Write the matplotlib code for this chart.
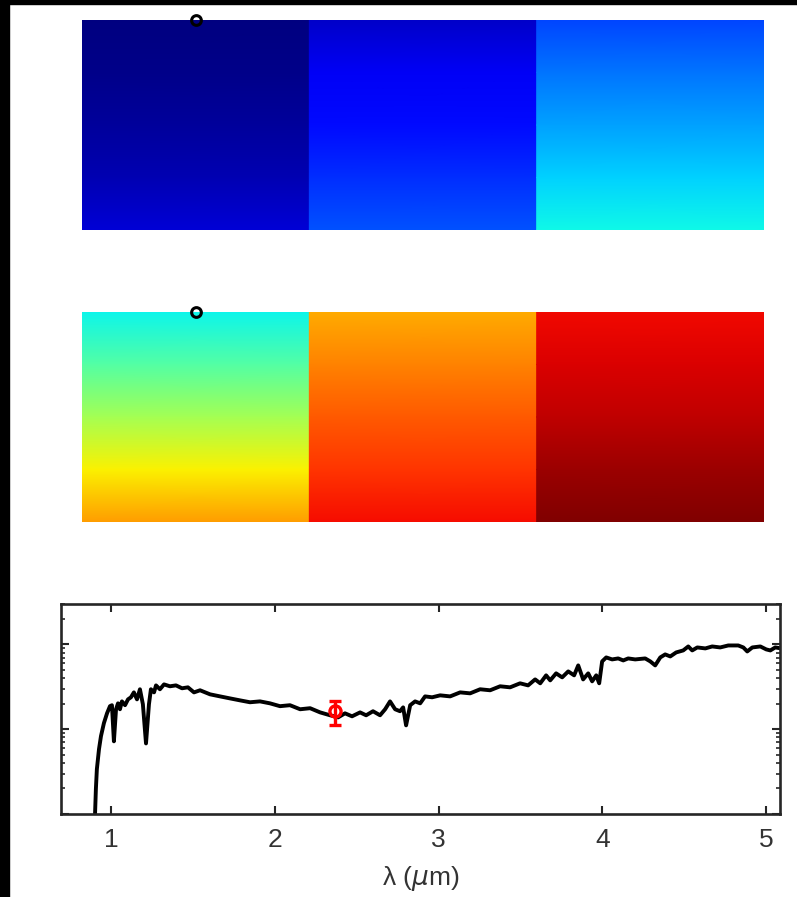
import numpy as np
import matplotlib
matplotlib.use("Agg")
import matplotlib.pyplot as plt
from matplotlib.patches import Rectangle
from matplotlib.ticker import LogLocator, NullFormatter

plt.rcParams['font.family'] = ['Liberation Sans', 'DejaVu Sans']

# colour values (jet scale, 0..1) read at 0, 25, 50, 75, 100 % down each column
row_frac = [0.0, 0.25, 0.5, 0.75, 1.0]
top_panel = [
    [0.0, 0.01, 0.025, 0.045, 0.075],
    [0.065, 0.105, 0.135, 0.17, 0.205],
    [0.195, 0.24, 0.285, 0.33, 0.37],
]
mid_panel = [
    [0.365, 0.45, 0.55, 0.655, 0.745],
    [0.73, 0.77, 0.815, 0.855, 0.895],
    [0.9, 0.92, 0.945, 0.975, 1.0],
]
marker_col = 0.5

# spectrum (wavelength in um, flux arbitrary)
wl = [0.902, 0.908, 0.914, 0.927, 0.939, 0.957, 0.976, 0.994, 1.006, 1.018,
      1.031, 1.043, 1.055, 1.067, 1.086, 1.104, 1.122, 1.140, 1.159, 1.177,
      1.195, 1.214, 1.232, 1.244, 1.263, 1.275, 1.299, 1.324, 1.360, 1.397,
      1.434, 1.470, 1.507, 1.544, 1.605, 1.666, 1.727, 1.788, 1.849, 1.910,
      1.971, 2.032, 2.093, 2.155, 2.216, 2.277, 2.338, 2.387, 2.429, 2.472,
      2.521, 2.558, 2.600, 2.643, 2.674, 2.704, 2.735, 2.765, 2.784, 2.802,
      2.827, 2.857, 2.888, 2.918, 2.961, 3.010, 3.071, 3.132, 3.193, 3.254,
      3.315, 3.376, 3.437, 3.498, 3.547, 3.590, 3.621, 3.657, 3.682, 3.718,
      3.755, 3.792, 3.828, 3.853, 3.883, 3.914, 3.938, 3.963, 3.981, 3.999,
      4.024, 4.060, 4.097, 4.128, 4.158, 4.201, 4.262, 4.293, 4.323, 4.354,
      4.384, 4.415, 4.451, 4.494, 4.525, 4.549, 4.580, 4.629, 4.671, 4.720,
      4.769, 4.830, 4.861, 4.885, 4.916, 4.965, 5.001, 5.026, 5.056, 5.093]
flux = [0.09, 0.197, 0.338, 0.582, 0.828, 1.18, 1.54, 1.87, 1.92, 0.72,
        1.72, 2.02, 1.72, 2.13, 1.92, 2.25, 2.38, 2.72, 2.25, 2.96,
        1.97, 0.68, 1.97, 2.96, 2.72, 3.29, 2.96, 3.38, 3.21, 3.29,
        3.04, 3.12, 2.72, 2.88, 2.58, 2.44, 2.31, 2.19, 2.08, 2.13,
        2.02, 1.87, 1.92, 1.72, 1.77, 1.58, 1.46, 1.38, 1.54, 1.42,
        1.58, 1.46, 1.63, 1.46, 1.72, 2.13, 1.72, 1.63, 1.81, 1.11,
        1.92, 2.13, 2.02, 2.44, 2.38, 2.51, 2.44, 2.72, 2.65, 2.96,
        2.88, 3.21, 3.12, 3.48, 3.29, 3.87, 3.48, 4.32, 3.77, 4.56,
        4.09, 4.81, 4.32, 5.66, 3.87, 4.56, 3.67, 4.32, 3.48, 6.31,
        7.03, 6.66, 6.84, 6.48, 6.84, 6.66, 6.84, 6.31, 5.66, 7.03,
        7.63, 7.22, 8.05, 8.50, 9.47, 8.50, 9.22, 8.98, 9.47, 9.22,
        9.73, 9.73, 9.22, 8.27, 9.22, 9.47, 8.74, 8.50, 9.22, 8.98]

phot_wl = [2.368]
phot_flux = [1.63]
phot_err_lo = [0.52]
phot_err_hi = [0.50]

W, H = 797, 897
fig = plt.figure(figsize=(W / 100, H / 100), dpi=100)

cmap = plt.get_cmap('jet')
for panel, top_px in [(top_panel, 20), (mid_panel, 312)]:
    ax = fig.add_axes([82 / W, 1 - (top_px + 210) / H, 682 / W, 210 / H])
    for i, col in enumerate(panel):
        X, Y = np.meshgrid([i, i + 1], row_frac)
        C = np.column_stack([col, col])
        ax.pcolormesh(X, Y, C, shading='gouraud', cmap=cmap, vmin=0, vmax=1)
    ax.plot([marker_col], [0], 'o', mfc='none', mec='black', ms=7, mew=2.2, clip_on=False)
    ax.set_xlim(0, 3)
    ax.set_ylim(1, 0)
    ax.axis('off')

ax3 = fig.add_axes([61 / W, 1 - 814 / H, 719 / W, 210 / H])
ax3.plot(wl, flux, color='black', lw=2.8)
ax3.errorbar(phot_wl, phot_flux, yerr=[phot_err_lo, phot_err_hi], fmt='o', color='red',
             mfc='none', ms=8, mew=2.4, elinewidth=2.4, capsize=4.5, capthick=2.4)
ax3.set_yscale('log')
ax3.set_xlim(0.695, 5.085)
ax3.set_ylim(0.1, 30)
ax3.set_xticks([1, 2, 3, 4, 5])
ax3.yaxis.set_major_locator(LogLocator(base=10, numticks=10))
ax3.yaxis.set_minor_locator(LogLocator(base=10, subs=np.arange(2, 10), numticks=20))
ax3.yaxis.set_major_formatter(NullFormatter())
ax3.yaxis.set_minor_formatter(NullFormatter())
ax3.tick_params(which='both', direction='in', top=True, right=True, color='#262626')
ax3.tick_params(which='major', length=5.5, width=1.5, labelsize=19, pad=10, labelcolor='#333333')
ax3.tick_params(which='minor', length=3, width=1.2)
for s in ax3.spines.values():
    s.set_linewidth(1.9)
    s.set_color('#262626')
ax3.set_xlabel('λ ($\\mu$m)', fontsize=19, color='#333333', labelpad=9)

# black edges of the original screenshot
fig.patches.append(Rectangle((0, 1 - 4 / H), 1, 4 / H, transform=fig.transFigure,
                             color='black', zorder=10))
fig.patches.append(Rectangle((0, 0), 9 / W, 1, transform=fig.transFigure,
                             color='black', zorder=10))

fig.savefig('out.png', dpi=100, facecolor='white')
